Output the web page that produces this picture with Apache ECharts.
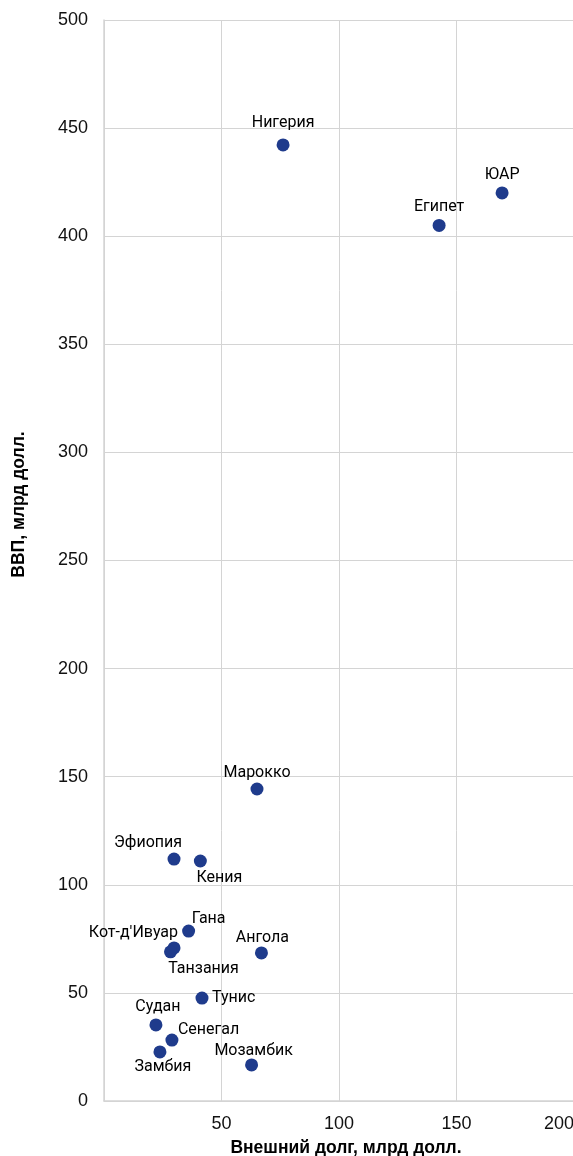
<!DOCTYPE html>
<html>
<head>
<meta charset="utf-8">
<script src="https://cdn.jsdelivr.net/npm/echarts@6/dist/echarts.min.js"></script>
<style>
  html, body { margin: 0; padding: 0; background: #fff; }
  #chart { width: 573px; height: 1156px; }
</style>
</head>
<body>
<div id="chart"></div>
<script>
// внешний долг и ВВП, млрд долл.
const countries = ['Нигерия', 'ЮАР', 'Египет', 'Марокко', 'Эфиопия', 'Кения', 'Гана',
  "Кот-д'Ивуар", 'Танзания', 'Ангола', 'Тунис', 'Судан', 'Сенегал', 'Замбия', 'Мозамбик']
const debt = [76.2, 169.4, 142.6, 65.1, 29.8, 41.0, 36.0, 29.8, 28.3, 67.0, 41.7, 22.1, 28.9, 23.8, 62.8]
const gdp = [442.2, 420.0, 405.0, 144.3, 111.9, 111.0, 78.6, 70.8, 69.0, 68.5, 47.6, 35.2, 28.2, 22.7, 16.7]
const xTicks = [0, 50, 100, 150, 200]
const yTicks = [0, 50, 100, 150, 200, 250, 300, 350, 400, 450, 500]

// where each name sits around its dot: [align, dx, dy]
const labelPlace = {
  'Нигерия': ['center', 0, -22],
  'ЮАР': ['center', 0, -18],
  'Египет': ['center', 0, -18],
  'Марокко': ['center', 0, -16],
  'Эфиопия': ['center', -26, -16],
  'Кения': ['center', 19, 17],
  'Гана': ['center', 20, -12],
  "Кот-д'Ивуар": ['right', 4, -15],
  'Танзания': ['center', 33, 17],
  'Ангола': ['center', 1, -15],
  'Тунис': ['left', 10, 0],
  'Судан': ['center', 2, -18],
  'Сенегал': ['left', 6, -10],
  'Замбия': ['center', 3, 15],
  'Мозамбик': ['center', 2, -14],
}

const gridColor = '#d4d4d4'
const dotColor = '#1f3b8c'

const chart = echarts.init(document.getElementById('chart'))

const points = countries.map((name, i) => {
  const [align, dx, dy] = labelPlace[name]
  return {
    name,
    value: [debt[i], gdp[i]],
    label: { position: 'inside', align, offset: [dx, dy] },
  }
})

chart.setOption({
  backgroundColor: '#fff',
  animation: false,
  grid: { left: 104, right: -1, top: 20, bottom: 55, outerBoundsMode: 'none', containLabel: false },
  xAxis: {
    type: 'value',
    min: xTicks[0],
    max: xTicks[xTicks.length - 1],
    interval: 50,
    name: 'Внешний долг, млрд долл.',
    nameLocation: 'middle',
    nameGap: 38,
    nameTextStyle: {
      fontFamily: 'Liberation Sans', fontWeight: 'bold', fontSize: 17.5, color: '#000',
      padding: [0, 0, 0, 14],
    },
    axisLine: { show: true, lineStyle: { color: gridColor, width: 1.5 } },
    axisTick: { show: false },
    axisLabel: {
      showMinLabel: false,
      alignMaxLabel: 'right',
      margin: 14,
      fontFamily: 'Liberation Sans',
      fontSize: 18,
      color: '#111',
    },
    splitLine: { show: true, lineStyle: { color: gridColor, width: 1 } },
  },
  yAxis: {
    type: 'value',
    min: yTicks[0],
    max: yTicks[yTicks.length - 1],
    interval: 50,
    name: 'ВВП, млрд долл.',
    nameLocation: 'middle',
    nameGap: 76,
    nameRotate: 90,
    nameTextStyle: {
      fontFamily: 'Liberation Sans', fontWeight: 'bold', fontSize: 17.5, color: '#000',
      padding: [0, 0, 0, 112],
    },
    axisLine: { show: true, lineStyle: { color: gridColor, width: 1.5 } },
    axisTick: { show: false },
    axisLabel: {
      margin: 16,
      fontFamily: 'Liberation Sans',
      fontSize: 18,
      color: '#111',
    },
    splitLine: { show: true, lineStyle: { color: gridColor, width: 1 } },
  },
  series: [
    {
      type: 'scatter',
      data: points,
      symbol: 'circle',
      symbolSize: 13,
      itemStyle: { color: dotColor, opacity: 1 },
      label: {
        show: true,
        formatter: (p) => p.name,
        fontFamily: 'Roboto',
        fontSize: 16,
        color: '#000',
        verticalAlign: 'middle',
      },
    },
  ],
})
</script>
</body>
</html>
